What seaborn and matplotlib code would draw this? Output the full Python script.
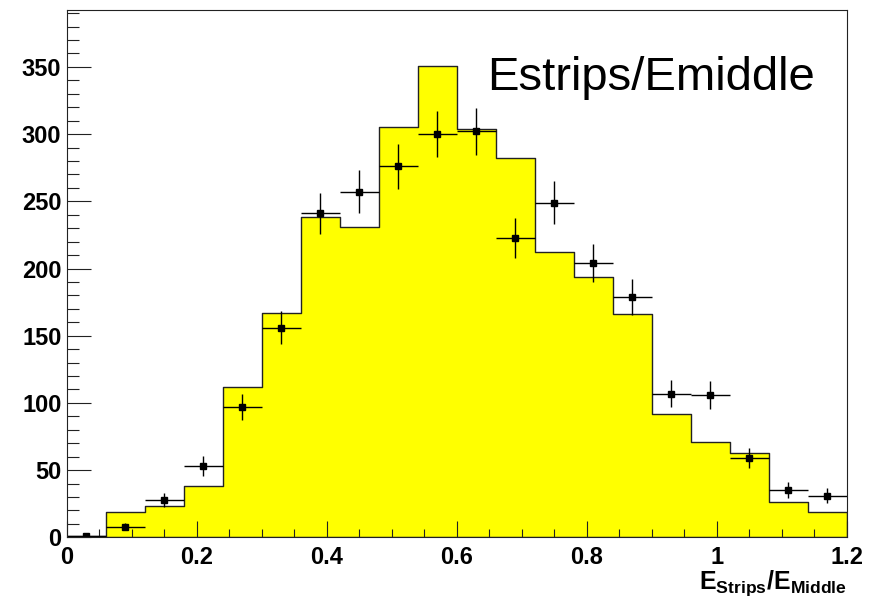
import numpy as np
import matplotlib
matplotlib.use("Agg")
import matplotlib.pyplot as plt
from matplotlib.ticker import MultipleLocator, FuncFormatter
import seaborn as sns

# ---- data ----
bin_edges = [0.00, 0.06, 0.12, 0.18, 0.24, 0.30, 0.36, 0.42, 0.48, 0.54, 0.60,
             0.66, 0.72, 0.78, 0.84, 0.90, 0.96, 1.02, 1.08, 1.14, 1.20]
bin_centers = [0.03, 0.09, 0.15, 0.21, 0.27, 0.33, 0.39, 0.45, 0.51, 0.57,
               0.63, 0.69, 0.75, 0.81, 0.87, 0.93, 0.99, 1.05, 1.11, 1.17]
hist_counts = [1, 19, 23, 38, 112, 167, 238, 231, 305, 351,
               304, 282, 212, 194, 166, 92, 71, 63, 26, 19]
data_counts = [1, 8, 28, 53, 97, 156, 241, 257, 276, 300,
               302, 223, 249, 204, 179, 107, 106, 59, 35, 31]
data_errors = [1.0, 2.8, 5.3, 7.3, 9.8, 12.5, 15.5, 16.0, 16.6, 17.3,
               17.4, 14.9, 15.8, 14.3, 13.4, 10.3, 10.3, 7.7, 5.9, 5.6]
half_width = 0.03
y_ticks = [0, 50, 100, 150, 200, 250, 300, 350]
x_ticks = [0, 0.2, 0.4, 0.6, 0.8, 1.0, 1.2]
title_text = "Estrips/Emiddle"
x_label = r"$E_{Strips}/E_{Middle}$"

# ---- style ----
sns.set_style("white")
plt.rcParams["font.family"] = ["Liberation Sans", "DejaVu Sans"]
plt.rcParams["mathtext.fontset"] = "custom"
plt.rcParams["mathtext.rm"] = "Liberation Sans:bold"
plt.rcParams["mathtext.it"] = "Liberation Sans:bold"
plt.rcParams["mathtext.bf"] = "Liberation Sans:bold"
plt.rcParams["mathtext.default"] = "rm"
plt.rcParams["text.color"] = "black"
plt.rcParams["axes.axisbelow"] = False

fig = plt.figure(figsize=(8.73, 5.97), dpi=100)
ax = fig.add_axes([0.0767, 0.1, 0.8930, 0.884])
ax.set_axisbelow(False)

sns.histplot(x=bin_centers, weights=hist_counts, bins=bin_edges,
             element="step", fill=True, facecolor="#ffff00",
             edgecolor="#222222", linewidth=1.0, alpha=1, ax=ax)

ax.errorbar(bin_centers, data_counts, xerr=half_width, yerr=data_errors,
            fmt="s", color="black", ecolor="black", markersize=4.5,
            elinewidth=1.0, capsize=0, zorder=5)

ax.set_xlim(0, 1.2)
ax.set_ylim(0, 392.7)
ax.set_xticks(x_ticks)
ax.set_yticks(y_ticks)
ax.xaxis.set_minor_locator(MultipleLocator(0.05))
ax.yaxis.set_minor_locator(MultipleLocator(10))
ax.xaxis.set_major_formatter(FuncFormatter(lambda v, p: f"{v:g}"))
ax.yaxis.set_major_formatter(FuncFormatter(lambda v, p: f"{v:g}"))

ax.tick_params(axis="both", which="both", direction="in",
               bottom=True, left=True, top=False, right=False,
               color="#222222", labelcolor="black", width=0.8)
ax.tick_params(axis="x", which="major", length=11.5, pad=6, labelsize=17)
ax.tick_params(axis="x", which="minor", length=5.5)
ax.tick_params(axis="y", which="major", length=17, pad=4, labelsize=17)
ax.tick_params(axis="y", which="minor", length=8.5)
for lab in ax.get_xticklabels() + ax.get_yticklabels():
    lab.set_fontweight("bold")

for sp in ax.spines.values():
    sp.set_visible(True)
    sp.set_color("#222222")
    sp.set_linewidth(0.8)
    sp.set_zorder(6)

ax.set_ylabel("")
ax.set_xlabel(x_label, fontsize=18, loc="right", color="black")
ax.xaxis.set_label_coords(1.0, -0.097)
ax.xaxis.label.set_va("baseline")
ax.xaxis.label.set_ha("right")

ax.text(0.539, 0.8475, title_text, transform=ax.transAxes, fontsize=34,
        ha="left", va="baseline", color="black")

fig.savefig("out.png", dpi=100, facecolor="white")
